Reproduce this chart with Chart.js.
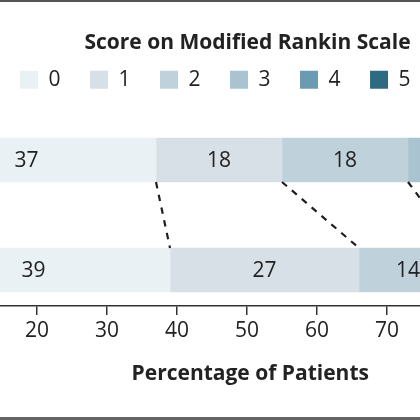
<!DOCTYPE html>
<html>
<head>
<meta charset="utf-8">
<script src="https://cdn.jsdelivr.net/npm/chart.js"></script>
<style>
	html, body { margin: 0; padding: 0; background: #fff; overflow: hidden; }
	#wrap { position: absolute; left: -10px; top: 0; width: 520px; height: 420px; }
</style>
</head>
<body>
<div id="wrap"><canvas id="mrsChart"></canvas></div>
<script>
// modified Rankin Scale score categories and the two groups (percent of patients)
const scores = ["0", "1", "2", "3", "4", "5"];
const groupNames = ["Group A", "Group B"];
const groupA = [37, 18, 18, 12, 9, 6];
const groupB = [39, 27, 14, 10, 6, 4];
const xTickStep = 10;

const colors = ["#e9f1f5", "#d6e0e6", "#bfd2db", "#a9c3d0", "#6b9bb1", "#2f6a83"];
const FONT = "'Open Sans', sans-serif";

// group A drawn on top, group B below
const groupPos = [1, 0];

function buildDatasets() {
	return scores.map((score, i) => ({
		label: score,
		data: [
			{ x: groupA[i], y: groupPos[0] },
			{ x: groupB[i], y: groupPos[1] },
		],
		backgroundColor: colors[i],
		borderWidth: 0,
		barThickness: 44,
	}));
}

const segmentLabels = {
	id: "segmentLabels",
	afterDatasetsDraw(chart) {
		const ctx = chart.ctx;
		ctx.save();
		ctx.font = `21px ${FONT}`;
		ctx.textAlign = "center";
		ctx.textBaseline = "middle";
		chart.data.datasets.forEach((ds, i) => {
			const meta = chart.getDatasetMeta(i);
			meta.data.forEach((bar, j) => {
				const p = bar.getCenterPoint();
				ctx.fillStyle = i >= 4 ? "#ffffff" : "#222222";
				ctx.fillText(String(ds.data[j].x), p.x, p.y + 1);
			});
		});
		ctx.restore();
	},
};

// dashed lines joining the matching boundaries of the two bars
const connectors = {
	id: "connectors",
	afterDatasetsDraw(chart) {
		const ctx = chart.ctx;
		const area = chart.chartArea;
		ctx.save();
		ctx.beginPath();
		ctx.rect(area.left, area.top, area.right - area.left, area.bottom - area.top);
		ctx.clip();
		ctx.strokeStyle = "#1e1e1e";
		ctx.lineWidth = 2.2;
		ctx.setLineDash([6.5, 6.5]);
		for (let i = 0; i < scores.length - 1; i++) {
			const bars = chart.getDatasetMeta(i).data;
			const top = bars[0];
			const bottom = bars[1];
			ctx.beginPath();
			ctx.moveTo(top.x, top.y + top.height / 2);
			ctx.lineTo(bottom.x, bottom.y - bottom.height / 2);
			ctx.stroke();
		}
		ctx.restore();
	},
};

const frame = {
	id: "frame",
	afterDraw(chart) {
		const ctx = chart.ctx;
		ctx.save();
		ctx.fillStyle = "#555";
		ctx.fillRect(0, 0, chart.width, 2);
		ctx.fillStyle = "#666";
		ctx.fillRect(0, 417, chart.width, 3);
		ctx.restore();
	},
};

new Chart(document.getElementById("mrsChart"), {
	type: "bar",
	data: { datasets: buildDatasets() },
	plugins: [segmentLabels, connectors, frame],
	options: {
		indexAxis: "y",
		responsive: true,
		maintainAspectRatio: false,
		animation: false,
		layout: { padding: { left: 0.5, right: 0, top: 0, bottom: 33.4 } },
		scales: {
			x: {
				type: "linear",
				stacked: true,
				min: 13.357,
				max: 87.571,
				border: { display: true, color: "#333", width: 1.5 },
				grid: { display: true, drawOnChartArea: false, drawTicks: true, tickLength: 9, color: "#333", lineWidth: 1.5 },
				ticks: {
					stepSize: xTickStep,
					includeBounds: false,
					autoSkip: false,
					padding: 3.5,
					color: "#222",
					font: { family: FONT, size: 21 },
				},
				title: {
					display: true,
					text: "Percentage of Patients",
					color: "#222",
					font: { family: FONT, size: 21, weight: "bold" },
					padding: { top: 14.2, bottom: 0 },
				},
			},
			y: {
				type: "linear",
				stacked: true,
				display: false,
				offset: false,
				min: -0.3273,
				max: 1.5427,
			},
		},
		plugins: {
			tooltip: { enabled: false },
			legend: {
				display: true,
				position: "top",
				align: "start",
				labels: {
					boxWidth: 18,
					boxHeight: 18,
					padding: 29.5,
					color: "#222",
					font: { family: FONT, size: 21 },
				},
				title: {
					display: true,
					text: "Score on Modified Rankin Scale",
					position: "end",
					color: "#222",
					font: { family: FONT, size: 21, weight: "bold" },
					padding: { top: 33, bottom: -18.4 },
				},
			},
		},
	},
});
</script>
</body>
</html>
